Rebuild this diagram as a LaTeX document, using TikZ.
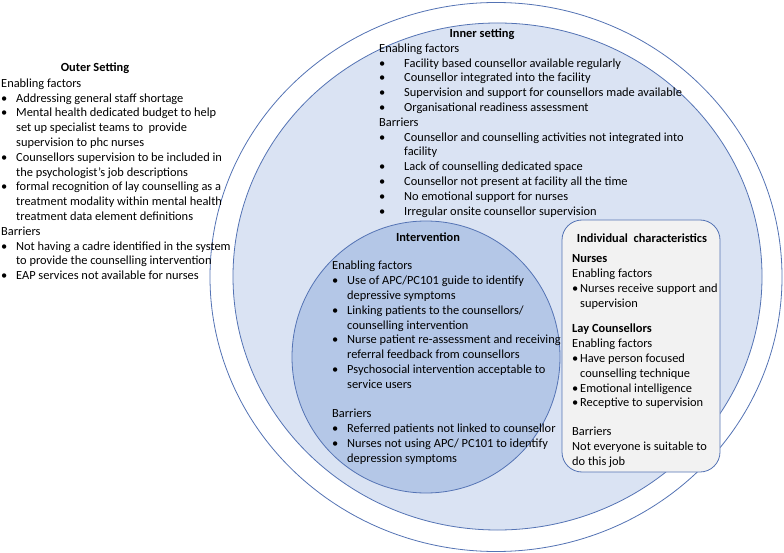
\documentclass[tikz,border=0pt]{standalone}
\usepackage{fontspec}
\setmainfont{Carlito}
\usetikzlibrary{shapes.geometric}
\definecolor{rimblue}{RGB}{84,115,180}
\definecolor{innerblue}{RGB}{218,227,243}
\definecolor{intervblue}{RGB}{180,199,231}
\definecolor{boxgrey}{RGB}{242,242,242}
\newcommand{\bul}[2]{\makebox[#1][l]{\textbullet}#2}
\newcommand{\cont}[2]{\hspace*{#1}#2}

\begin{document}
\begin{tikzpicture}[x=1pt,y=-1pt]
	\tikzstyle{every node} = [inner sep=0pt, font=\fontsize{12.4}{14.8}\selectfont]
	\tikzstyle{ring} = [draw=rimblue, line width=0.8pt, ellipse, inner sep=0pt]
	\tikzstyle{title} = [font=\fontsize{12.4}{14.8}\selectfont\bfseries]
	\tikzstyle{block} = [align=left, anchor=north west]
	\useasboundingbox (0,0) rectangle (784,553);

	\node[ring, fill=white, minimum width=572pt, minimum height=549pt] (outer) at (496,277) {};
	\node[ring, fill=innerblue, minimum width=529pt, minimum height=507pt] (inner) at (497.5,276.5) {};
	\node[ring, fill=intervblue, minimum width=268pt, minimum height=272pt] (interv) at (426,357) {};
	\node[draw=rimblue, line width=0.8pt, fill=boxgrey, rounded corners=20pt, minimum width=158pt, minimum height=252pt] (indiv) at (641,346) {};

	\node[title] (outertitle) at (95,68) {Outer Setting};
	\node[block] (outertxt) at (1,78.5) {Enabling factors\\
		\bul{15pt}{Addressing general staff shortage}\\
		\bul{15pt}{Mental health dedicated budget to help}\\
		\cont{15pt}{set up specialist teams to~ provide}\\
		\cont{15pt}{supervision to phc nurses}\\
		\bul{15pt}{Counsellors supervision to be included in}\\
		\cont{15pt}{the psychologist’s job descriptions}\\
		\bul{15pt}{formal recognition of lay counselling as a}\\
		\cont{15pt}{treatment modality within mental health}\\
		\cont{15pt}{treatment data element definitions}\\
		Barriers\\
		\bul{15pt}{Not having a cadre identified in the system}\\
		\cont{15pt}{to provide the counselling intervention}\\
		\bul{15pt}{EAP services not available for nurses}};

	\node[title] (innertitle) at (482,34) {Inner setting};
	\node[block] (innertxt) at (379,43.5) {Enabling factors\\
		\bul{25pt}{Facility based counsellor available regularly}\\
		\bul{25pt}{Counsellor integrated into the facility}\\
		\bul{25pt}{Supervision and support for counsellors made available}\\
		\bul{25pt}{Organisational readiness assessment}\\
		Barriers\\
		\bul{25pt}{Counsellor and counselling activities not integrated into}\\
		\cont{25pt}{facility}\\
		\bul{25pt}{Lack of counselling dedicated space}\\
		\bul{25pt}{Counsellor not present at facility all the time}\\
		\bul{25pt}{No emotional support for nurses}\\
		\bul{25pt}{Irregular onsite counsellor supervision}};

	\node[title] (intervtitle) at (428,237) {Intervention};
	\node[block] (intervtxt) at (332,261) {Enabling factors\\
		\bul{15pt}{Use of APC/PC101 guide to identify}\\
		\cont{15pt}{depressive symptoms}\\
		\bul{15pt}{Linking patients to the counsellors/}\\
		\cont{15pt}{counselling intervention}\\
		\bul{15pt}{Nurse patient re-assessment and receiving}\\
		\cont{15pt}{referral feedback from counsellors}\\
		\bul{15pt}{Psychosocial intervention acceptable to}\\
		\cont{15pt}{service users}\\[14.8pt]
		Barriers\\
		\bul{15pt}{Referred patients not linked to counsellor}\\
		\bul{15pt}{Nurses not using APC/ PC101 to identify}\\
		\cont{15pt}{depression symptoms}};

	\node[title] (indivtitle) at (642,238) {Individual~ characteristics};
	\node[block] (indivtxt) at (572,254.5) {\textbf{Nurses}\\
		Enabling factors\\
		\bul{8pt}{Nurses receive support and}\\
		\cont{8pt}{supervision}\\[11pt]
		\textbf{Lay Counsellors}\\
		Enabling factors\\
		\bul{8pt}{Have person focused}\\
		\cont{8pt}{counselling technique}\\
		\bul{8pt}{Emotional intelligence}\\
		\bul{8pt}{Receptive to supervision}\\[14pt]
		Barriers\\
		Not everyone is suitable to\\
		do this job};
\end{tikzpicture}
\end{document}
